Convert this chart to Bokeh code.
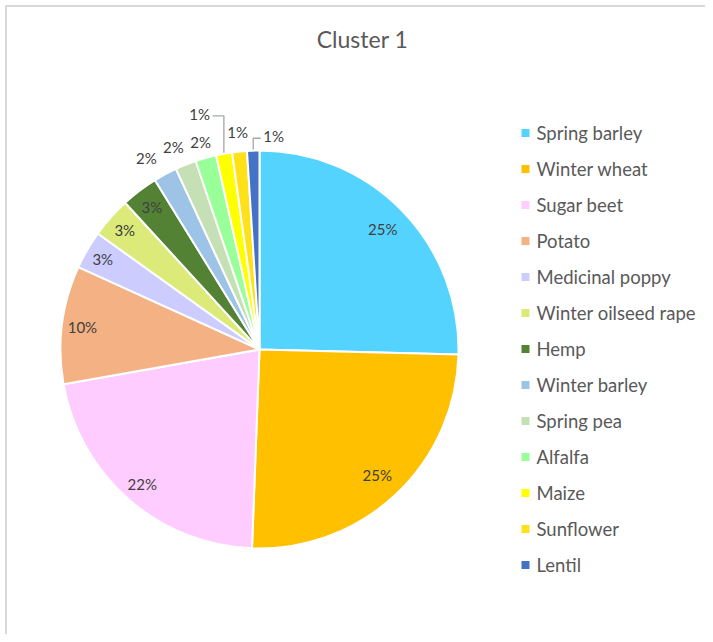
import math
from bokeh.plotting import figure
from bokeh.models import Range1d
from bokeh.core.properties import value
from bokeh.embed import file_html
from bokeh.resources import INLINE

# ---------------- data ----------------
title = "Cluster 1"
crops = ["Spring barley", "Winter wheat", "Sugar beet", "Potato", "Medicinal poppy",
         "Winter oilseed rape", "Hemp", "Winter barley", "Spring pea", "Alfalfa",
         "Maize", "Sunflower", "Lentil"]
shares = [25.4, 25.2, 21.6, 9.6, 3.1, 3.3, 3.0, 1.9, 1.7, 1.7, 1.3, 1.2, 1.0]
colors = ["#55D3FF", "#FFC000", "#FFCCFF", "#F4B183", "#CCCCFF", "#DCEA7A", "#548235",
          "#9DC3E6", "#C5E0B4", "#99FF99", "#FFFF00", "#FFE119", "#4472C4"]

# ---------------- layout (not data) ----------------
W, H = 705, 634
PAGE_H = 642
CX, CY, R = 259, PAGE_H - 349, 199
label_rf = [0.865, 0.865, 0.897, 0.897, 0.91, 0.905, 0.897, 1.117, 1.105, 1.083, 1.222, 1.097, 1.074]
label_dang = [0, 0, 0, 0, 0, 0, 0, -2.3, -1.3, -0.2, -4.0, 0, 5.6]
leader = [False] * 10 + [True, False, True]

FONT = "Lato"
TXT = "#595959"

p = figure(width=W, height=H, output_backend="svg", toolbar_location=None,
           x_range=Range1d(0, W), y_range=Range1d(PAGE_H - H, PAGE_H),
           min_border=0, outline_line_color=None)
p.axis.visible = False
p.grid.visible = False
p.background_fill_color = "white"
p.border_fill_color = "white"

# frame border (top and left as in the reference crop)
p.line(x=[5.5, 5.5, W], y=[0, PAGE_H - 5.5, PAGE_H - 5.5], line_color="#D9D9D9", line_width=2)

total = sum(shares)
cum = 0.0
starts, ends, mids = [], [], []
for s in shares:
    f0 = cum / total
    cum += s
    f1 = cum / total
    starts.append(math.pi / 2 - 2 * math.pi * f0)
    ends.append(math.pi / 2 - 2 * math.pi * f1)
    mids.append(360 * (f0 + f1) / 2)

p.wedge(x=CX, y=CY, radius=R, start_angle=starts, end_angle=ends, direction="clock",
        fill_color=colors, line_color="white", line_width=2)

# data labels
lx, ly, lt = [], [], []
for i, s in enumerate(shares):
    a = math.radians(mids[i] + label_dang[i])
    r = R * label_rf[i]
    x = CX + r * math.sin(a)
    y = CY + r * math.cos(a)
    lx.append(x); ly.append(y)
    lt.append(f"{round(100 * s / total)}%")
    if leader[i]:
        am = math.radians(mids[i])
        ex = CX + (R + 1) * math.sin(am)
        ey = CY + (R + 1) * math.cos(am)
        side = 1 if ex > x else -1
        p.line(x=[ex, ex, x + side * 13], y=[ey, y - 2, y - 2],
               line_color="#A6A6A6", line_width=1.3)

p.text(x=lx, y=ly, text=lt, text_align="center", text_baseline="middle",
       text_font=value(FONT), text_font_size="15px", text_color="#404040")

# title
p.text(x=[362], y=[PAGE_H - 38], text=[title], text_align="center", text_baseline="middle",
       text_font=value(FONT), text_font_size="23px", text_color=TXT)

# legend
leg_y = [PAGE_H - (132.5 + 36 * i) for i in range(len(crops))]
p.scatter(x=[525] * len(crops), y=leg_y, marker="square", size=8,
          fill_color=colors, line_color=None)
p.text(x=[536] * len(crops), y=leg_y, text=crops, text_align="left", text_baseline="middle",
       text_font=value(FONT), text_font_size="18.5px", text_color=TXT)

open("out.html", "w").write(file_html(p, INLINE))
